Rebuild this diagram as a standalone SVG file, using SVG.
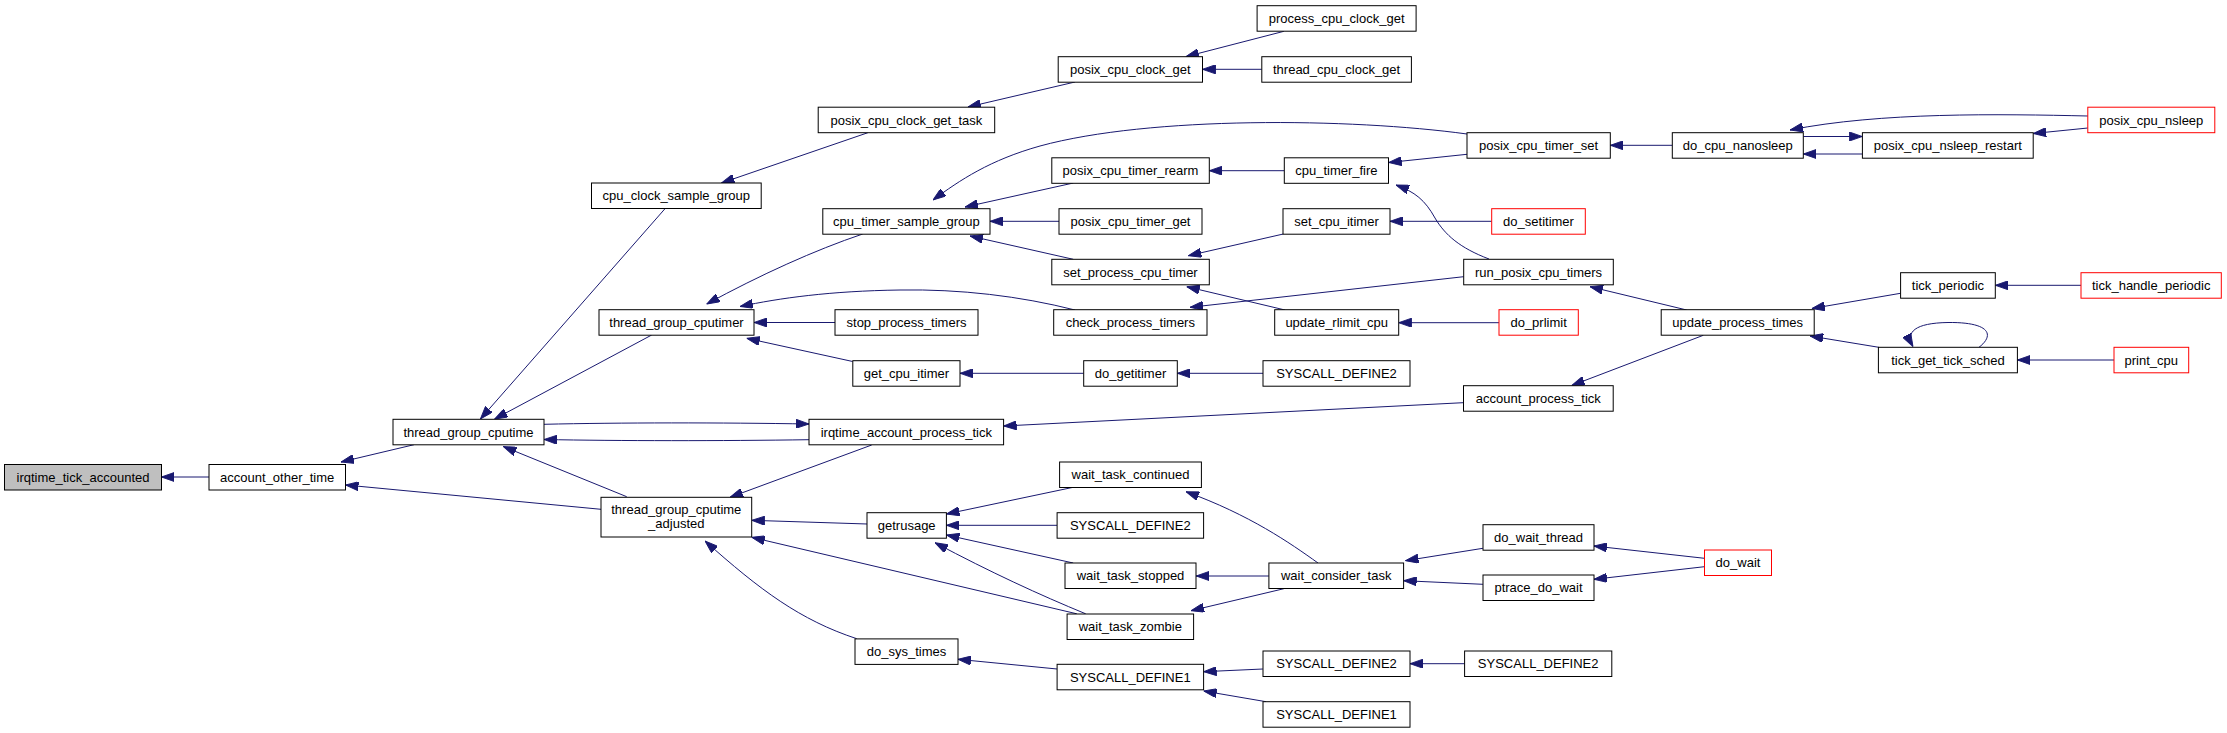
<svg xmlns="http://www.w3.org/2000/svg" width="2227" height="733" viewBox="0 0 2227 733">
<style>
.n rect{fill:#fff;stroke:#000;stroke-width:1}
.n.r rect{stroke:#ff0000}
.n.g rect{fill:#bfbfbf}
.n text{font-family:"Liberation Sans",Arial,Helvetica,sans-serif;font-size:13px;fill:#000;text-anchor:middle}
#edges path{fill:none;stroke:#191970;stroke-width:1;marker-end:url(#ah)}
</style>
<defs>
<marker id="ah" markerUnits="userSpaceOnUse" viewBox="0 0 10 7" markerWidth="13" markerHeight="9.1" refX="10" refY="3.5" orient="auto">
<path d="M0,0 L10,3.5 L0,7 z" fill="#191970" stroke="#191970" stroke-width="0.7"/>
</marker>
</defs>
<rect width="2227" height="733" fill="#fff"/>
<g id="edges">
<path d="M209,477 L161.4,477"/>
<path d="M414,444.7 L341,462"/>
<path d="M601,509.3 L345.5,485"/>
<path d="M665,208.7 L480.4,419"/>
<path d="M651.7,335 L494.6,419"/>
<path d="M544,424.3 C620,422.5 720,422.5 809,424"/>
<path d="M809,439.7 C720,441 620,441 544,439.5"/>
<path d="M626.7,496.7 L503.3,446.5"/>
<path d="M871.7,445 L730,497.3"/>
<path d="M867.3,524 L751.7,520.3"/>
<path d="M1076.8,613.8 L751.7,537.3"/>
<path d="M856.7,638.7 C800,620 760,590 705,541"/>
<path d="M867.9,132.7 L721.4,183"/>
<path d="M1075,82 L967.9,107"/>
<path d="M1283.9,31.3 L1185.7,56.7"/>
<path d="M1261.8,69.3 L1202.5,69.3"/>
<path d="M862.7,234 C815,250 760,275 706.7,304"/>
<path d="M1075,310 C1020,296 960,289 900,290 C830,291 780,298 740,306.5"/>
<path d="M835,322.5 L754,322.5"/>
<path d="M852.7,361.5 L746.7,338.3"/>
<path d="M1467,134 C1350,118 1150,116 1040,146 C990,160 960,180 933,200"/>
<path d="M1073.3,183 L965,207"/>
<path d="M1059,221.3 L990,221.3"/>
<path d="M1073.3,259.3 L970,236"/>
<path d="M1284.3,170.7 L1209.3,170.7"/>
<path d="M1467,154.3 L1388.7,162.5"/>
<path d="M1489,259 C1460,248 1445,235 1435,218 C1425,200 1415,192 1396,185"/>
<path d="M1672.3,145.3 L1610.3,145.3"/>
<path d="M1283.3,234 L1188.3,255.7"/>
<path d="M1491.7,221.3 L1390,221.3"/>
<path d="M1463.7,276.7 L1190,307.3"/>
<path d="M1285,310 L1186.7,286.7"/>
<path d="M1499,322.7 L1398.7,322.7"/>
<path d="M1083.7,373.3 L960,373.3"/>
<path d="M1263,373.3 L1177.3,373.3"/>
<path d="M1463.2,402.7 L1003.6,426"/>
<path d="M1686.7,310 L1590,286.7"/>
<path d="M1703.3,335.3 L1571.7,385.5"/>
<path d="M1862.3,154 L1803.3,154"/>
<path d="M1803.3,136.5 L1862.3,136.5"/>
<path d="M2088,116 C2000,114 1880,112 1790,130"/>
<path d="M2087.8,128 L2033.2,133.5"/>
<path d="M1900.5,293.3 L1811.9,308.5"/>
<path d="M1878.8,347.3 L1810.1,336"/>
<path d="M2081,285.3 L1995.3,285.3"/>
<path d="M2114,360 L2017.3,360"/>
<path d="M1979,347.3 C1995,335 1990,322 1948,322.5 C1915,323 1905,332 1913,346.5"/>
<path d="M1073.2,487.3 L946.4,514"/>
<path d="M1057.1,525.3 L946.4,525.3"/>
<path d="M1073.2,563 L946.4,535"/>
<path d="M1085.7,613.8 C1040,595 990,572 935,542.7"/>
<path d="M1318,563 C1290,543 1250,515 1186,491.7"/>
<path d="M1268.9,576 L1196.1,576"/>
<path d="M1283.9,588.7 L1191,610.7"/>
<path d="M1482.9,548.3 L1405.4,560.7"/>
<path d="M1482.9,584.3 L1403.6,580.7"/>
<path d="M1704.5,558.3 L1593.9,546"/>
<path d="M1704.5,566.7 L1593.9,579.3"/>
<path d="M1057.1,669 L957.9,659.3"/>
<path d="M1262.9,669 L1203.6,671.7"/>
<path d="M1266,701.7 L1203.6,691"/>
<path d="M1464.6,663.7 L1410,663.7"/>
</g>
<g id="n_irqtime_tick_accounted" class="n g"><rect x="4.5" y="464.5" width="157" height="25.5"/><text x="83" y="481.8">irqtime_tick_accounted</text></g>
<g id="n_account_other_time" class="n"><rect x="209" y="464.5" width="136.5" height="25.5"/><text x="277.2" y="481.8">account_other_time</text></g>
<g id="n_thread_group_cputime" class="n"><rect x="393" y="419.3" width="151" height="25.5"/><text x="468.5" y="436.6">thread_group_cputime</text></g>
<g id="n_thread_group_cputime_adjusted" class="n"><rect x="601" y="497.3" width="150.7" height="39.7"/><text x="676.3" y="513.5">thread_group_cputime</text><text x="676.3" y="528.3">_adjusted</text></g>
<g id="n_cpu_clock_sample_group" class="n"><rect x="591.5" y="183" width="169.7" height="25.5"/><text x="676.3" y="200.3">cpu_clock_sample_group</text></g>
<g id="n_thread_group_cputimer" class="n"><rect x="599" y="309.7" width="155" height="25.5"/><text x="676.5" y="327">thread_group_cputimer</text></g>
<g id="n_irqtime_account_process_tick" class="n"><rect x="809" y="419.3" width="194.6" height="25.5"/><text x="906.3" y="436.6">irqtime_account_process_tick</text></g>
<g id="n_posix_cpu_clock_get_task" class="n"><rect x="818.2" y="107.2" width="176.5" height="25.5"/><text x="906.4" y="124.5">posix_cpu_clock_get_task</text></g>
<g id="n_cpu_timer_sample_group" class="n"><rect x="822.8" y="208.7" width="167.2" height="25.5"/><text x="906.4" y="226">cpu_timer_sample_group</text></g>
<g id="n_stop_process_timers" class="n"><rect x="835" y="309.7" width="143" height="25.5"/><text x="906.5" y="327">stop_process_timers</text></g>
<g id="n_get_cpu_itimer" class="n"><rect x="852.8" y="360.7" width="107.2" height="25.5"/><text x="906.4" y="378">get_cpu_itimer</text></g>
<g id="n_getrusage" class="n"><rect x="867" y="512.7" width="79.4" height="25.5"/><text x="906.7" y="530">getrusage</text></g>
<g id="n_do_sys_times" class="n"><rect x="855" y="638.9" width="103" height="25.5"/><text x="906.5" y="656.2">do_sys_times</text></g>
<g id="n_posix_cpu_clock_get" class="n"><rect x="1058.2" y="56.7" width="144.3" height="25.5"/><text x="1130.3" y="74">posix_cpu_clock_get</text></g>
<g id="n_posix_cpu_timer_rearm" class="n"><rect x="1051.8" y="157.8" width="157.5" height="25.5"/><text x="1130.5" y="175.1">posix_cpu_timer_rearm</text></g>
<g id="n_posix_cpu_timer_get" class="n"><rect x="1059" y="208.7" width="143" height="25.5"/><text x="1130.5" y="226">posix_cpu_timer_get</text></g>
<g id="n_set_process_cpu_timer" class="n"><rect x="1051.8" y="259.3" width="157.5" height="25.5"/><text x="1130.5" y="276.6">set_process_cpu_timer</text></g>
<g id="n_check_process_timers" class="n"><rect x="1053.7" y="309.7" width="153.3" height="25.5"/><text x="1130.3" y="327">check_process_timers</text></g>
<g id="n_do_getitimer" class="n"><rect x="1083.7" y="360.7" width="93.6" height="25.5"/><text x="1130.5" y="378">do_getitimer</text></g>
<g id="n_wait_task_continued" class="n"><rect x="1059.6" y="462" width="141.8" height="25.5"/><text x="1130.5" y="479.3">wait_task_continued</text></g>
<g id="n_syscall_define2_a" class="n"><rect x="1057.1" y="512.7" width="146.5" height="25.5"/><text x="1130.3" y="530">SYSCALL_DEFINE2</text></g>
<g id="n_wait_task_stopped" class="n"><rect x="1065" y="563" width="131" height="25.5"/><text x="1130.5" y="580.3">wait_task_stopped</text></g>
<g id="n_wait_task_zombie" class="n"><rect x="1067.1" y="614" width="126.5" height="25.5"/><text x="1130.3" y="631.3">wait_task_zombie</text></g>
<g id="n_syscall_define1_a" class="n"><rect x="1057.1" y="664.3" width="146.5" height="25.5"/><text x="1130.3" y="681.6">SYSCALL_DEFINE1</text></g>
<g id="n_process_cpu_clock_get" class="n"><rect x="1257.1" y="5.7" width="159" height="25.5"/><text x="1336.6" y="23">process_cpu_clock_get</text></g>
<g id="n_thread_cpu_clock_get" class="n"><rect x="1261.8" y="56.7" width="149.6" height="25.5"/><text x="1336.6" y="74">thread_cpu_clock_get</text></g>
<g id="n_cpu_timer_fire" class="n"><rect x="1284.3" y="157.8" width="104.2" height="25.5"/><text x="1336.4" y="175.1">cpu_timer_fire</text></g>
<g id="n_set_cpu_itimer" class="n"><rect x="1283" y="208.7" width="107" height="25.5"/><text x="1336.5" y="226">set_cpu_itimer</text></g>
<g id="n_update_rlimit_cpu" class="n"><rect x="1274.7" y="309.7" width="124" height="25.5"/><text x="1336.7" y="327">update_rlimit_cpu</text></g>
<g id="n_syscall_define2_b" class="n"><rect x="1263" y="360.7" width="147" height="25.5"/><text x="1336.5" y="378">SYSCALL_DEFINE2</text></g>
<g id="n_wait_consider_task" class="n"><rect x="1268.9" y="563" width="134.7" height="25.5"/><text x="1336.2" y="580.3">wait_consider_task</text></g>
<g id="n_syscall_define2_c" class="n"><rect x="1263" y="651" width="147" height="25.5"/><text x="1336.5" y="668.3">SYSCALL_DEFINE2</text></g>
<g id="n_syscall_define1_b" class="n"><rect x="1263" y="701.7" width="147" height="25.5"/><text x="1336.5" y="719">SYSCALL_DEFINE1</text></g>
<g id="n_posix_cpu_timer_set" class="n"><rect x="1467" y="132.7" width="143.3" height="25.5"/><text x="1538.6" y="150">posix_cpu_timer_set</text></g>
<g id="n_do_setitimer" class="n r"><rect x="1491.7" y="208.7" width="93.6" height="25.5"/><text x="1538.5" y="226">do_setitimer</text></g>
<g id="n_run_posix_cpu_timers" class="n"><rect x="1463.7" y="259.3" width="149.6" height="25.5"/><text x="1538.5" y="276.6">run_posix_cpu_timers</text></g>
<g id="n_do_prlimit" class="n r"><rect x="1499" y="309.7" width="79.3" height="25.5"/><text x="1538.6" y="327">do_prlimit</text></g>
<g id="n_account_process_tick" class="n"><rect x="1463.5" y="385.7" width="149.7" height="25.5"/><text x="1538.3" y="403">account_process_tick</text></g>
<g id="n_do_wait_thread" class="n"><rect x="1483" y="524.7" width="111" height="25.5"/><text x="1538.5" y="542">do_wait_thread</text></g>
<g id="n_ptrace_do_wait" class="n"><rect x="1483" y="575" width="111" height="25.5"/><text x="1538.5" y="592.3">ptrace_do_wait</text></g>
<g id="n_syscall_define2_d" class="n"><rect x="1464.6" y="651" width="147.2" height="25.5"/><text x="1538.2" y="668.3">SYSCALL_DEFINE2</text></g>
<g id="n_update_process_times" class="n"><rect x="1661.2" y="309.7" width="153" height="25.5"/><text x="1737.7" y="327">update_process_times</text></g>
<g id="n_do_cpu_nanosleep" class="n"><rect x="1672.3" y="132.7" width="131" height="25.5"/><text x="1737.8" y="150">do_cpu_nanosleep</text></g>
<g id="n_do_wait" class="n r"><rect x="1704.5" y="550" width="67" height="25.5"/><text x="1738" y="567.3">do_wait</text></g>
<g id="n_posix_cpu_nsleep_restart" class="n"><rect x="1862.4" y="132.7" width="170.8" height="25.5"/><text x="1947.8" y="150">posix_cpu_nsleep_restart</text></g>
<g id="n_posix_cpu_nsleep" class="n r"><rect x="2087.8" y="107.2" width="127" height="25.5"/><text x="2151.3" y="124.5">posix_cpu_nsleep</text></g>
<g id="n_tick_periodic" class="n"><rect x="1900.6" y="272.7" width="94.7" height="25.5"/><text x="1948" y="290">tick_periodic</text></g>
<g id="n_tick_get_tick_sched" class="n"><rect x="1878.4" y="347.3" width="139" height="25.5"/><text x="1947.9" y="364.6">tick_get_tick_sched</text></g>
<g id="n_tick_handle_periodic" class="n r"><rect x="2081" y="272.7" width="140.3" height="25.5"/><text x="2151.2" y="290">tick_handle_periodic</text></g>
<g id="n_print_cpu" class="n r"><rect x="2114" y="347.3" width="74.7" height="25.5"/><text x="2151.3" y="364.6">print_cpu</text></g>
</svg>
